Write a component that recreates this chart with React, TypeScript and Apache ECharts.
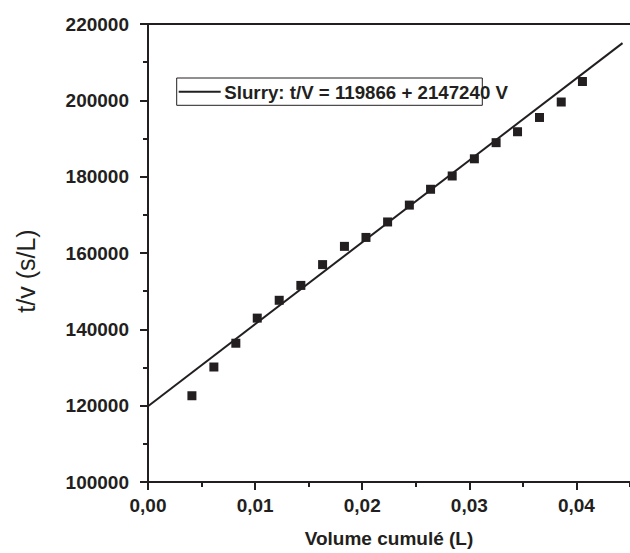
import React, { useEffect, useRef } from "react";
import * as echarts from "echarts";

const volumes = [
  0.0041, 0.00615, 0.0082, 0.0102, 0.01225, 0.01427, 0.0163, 0.01834, 0.02035, 0.02237,
  0.0244, 0.02638, 0.0284, 0.03047, 0.0325, 0.0345, 0.03655, 0.03858, 0.04056,
];
const tOverV = [
  122600, 130130, 136360, 142940, 147610, 151510, 156960, 161740, 164080, 168130,
  172550, 176700, 180180, 184680, 188910, 191770, 195510, 199560, 204940,
];
const fitIntercept = 119866;
const fitSlope = 2147240;
const fitRange = [0, 0.0443];
const legendText = "Slurry: t/V = 119866 + 2147240 V";
const xTitle = "Volume cumulé (L)";
const yTitle = "t/v (s/L)";

const INK = "#231f20";
const FONT = "'Liberation Sans', Arial, sans-serif";

export default function App() {
  const ref = useRef<HTMLDivElement>(null);
  useEffect(() => {
    if (!ref.current) return;
    const chart = echarts.init(ref.current, undefined, { renderer: "svg" });
    const points = volumes.map((v, i) => [v, tOverV[i]]);
    const fit = fitRange.map((v) => [v, fitIntercept + fitSlope * v]);
    const xCommon = {
      type: "value" as const,
      min: 0,
      max: 0.045,
      splitLine: { show: false },
      axisLine: { show: true, lineStyle: { color: INK, width: 2 } },
    };
    chart.setOption({
      animation: false,
      backgroundColor: "#ffffff",
      grid: { left: 148, width: 483, top: 24, height: 462, containLabel: false },
      xAxis: [
        {
          ...xCommon,
          position: "bottom",
          interval: 0.005,
          axisTick: { show: true, length: 5, lineStyle: { color: INK, width: 2 } },
          axisLabel: { show: false },
        },
        {
          ...xCommon,
          position: "bottom",
          interval: 0.01,
          axisTick: { show: true, length: 8, lineStyle: { color: INK, width: 2 } },
          axisLabel: {
            show: true,
            margin: 14,
            color: INK,
            fontFamily: FONT,
            fontWeight: "bold",
            fontSize: 19,
            showMaxLabel: false,
            formatter: (v: number) => {
              const k = Math.round(v * 100);
              if (Math.abs(v * 100 - k) > 1e-6 || k > 4) return "";
              return (k / 100).toFixed(2).replace(".", ",");
            },
          },
          name: xTitle,
          nameLocation: "middle",
          nameGap: 47,
          nameTextStyle: { color: INK, fontFamily: FONT, fontWeight: "bold", fontSize: 19 },
        },
        {
          ...xCommon,
          position: "top",
          interval: 0.01,
          axisTick: { show: false },
          axisLabel: { show: false },
        },
      ],
      yAxis: {
        type: "value",
        min: 100000,
        max: 220000,
        interval: 20000,
        splitLine: { show: false },
        axisLine: { show: true, lineStyle: { color: INK, width: 2 } },
        axisTick: { show: true, length: 8, lineStyle: { color: INK, width: 2 } },
        minorTick: { show: true, splitNumber: 2, length: 5, lineStyle: { color: INK, width: 2 } },
        axisLabel: {
          margin: 19,
          color: INK,
          fontFamily: FONT,
          fontWeight: "bold",
          fontSize: 19,
          formatter: (v: number) => String(Math.round(v)),
        },
      },
      series: [
        {
          type: "line",
          name: "fit",
          xAxisIndex: 0,
          data: fit,
          showSymbol: false,
          symbol: "none",
          lineStyle: { color: INK, width: 2 },
          z: 2,
        },
        {
          type: "scatter",
          name: "Slurry",
          xAxisIndex: 0,
          data: points,
          symbol: "rect",
          symbolSize: 9,
          itemStyle: { color: INK, opacity: 1 },
          z: 3,
        },
      ],
      graphic: [
        {
          type: "rect",
          shape: { x: 176.7, y: 78, width: 305.6, height: 27.3 },
          style: { fill: "none", stroke: INK, lineWidth: 1 },
          z: 10,
        },
        {
          type: "line",
          shape: { x1: 178.7, y1: 91.7, x2: 220.7, y2: 91.7 },
          style: { stroke: INK, lineWidth: 2 },
          z: 10,
        },
        {
          type: "text",
          x: 224.3,
          y: 92,
          style: {
            text: legendText,
            fill: INK,
            font: `bold 18.7px ${FONT}`,
            textAlign: "left",
            textVerticalAlign: "middle",
          },
          z: 10,
        },
        {
          type: "text",
          x: 26,
          y: 271,
          rotation: Math.PI / 2,
          style: {
            text: yTitle,
            fill: INK,
            font: `25px ${FONT}`,
            textAlign: "center",
            textVerticalAlign: "middle",
          },
          z: 10,
        },
      ],
    });
    return () => chart.dispose();
  }, []);
  return (
    <div
      ref={ref}
      style={{ position: "fixed", left: 0, top: 0, width: 630, height: 553, background: "#fff" }}
    />
  );
}
